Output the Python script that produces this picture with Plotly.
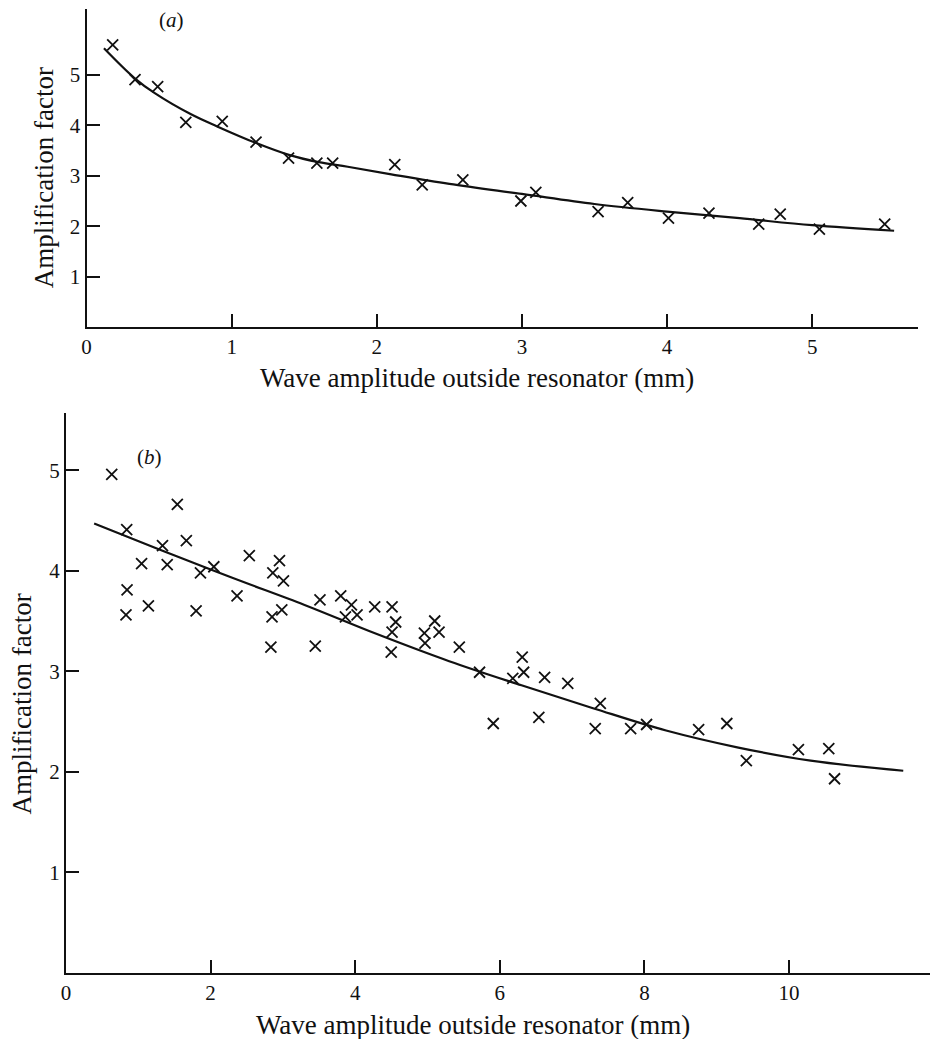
import plotly.graph_objects as go

# ---- Panel (a): measured points and fitted curve ----
a_x = [0.18, 0.334, 0.49, 0.684, 0.935, 1.168, 1.392, 1.587, 1.696, 2.124, 2.313,
       2.593, 2.993, 3.096, 3.525, 3.729, 4.01, 4.289, 4.632, 4.78, 5.05, 5.50]
a_y = [5.60, 4.91, 4.77, 4.06, 4.08, 3.67, 3.35, 3.25, 3.25, 3.22, 2.82,
       2.92, 2.50, 2.67, 2.29, 2.47, 2.16, 2.26, 2.04, 2.24, 1.94, 2.04]

a_fit_x = [0.12, 0.33, 0.47, 0.72, 0.9, 1.16, 1.4, 1.6, 1.8, 2.1, 2.5, 3.0, 3.5,
           4.0, 4.5, 5.0, 5.565]
a_fit_y = [5.53, 4.94, 4.64, 4.22, 3.98, 3.66, 3.41, 3.27, 3.18, 3.03, 2.84, 2.64,
           2.44, 2.29, 2.16, 2.02, 1.91]

# ---- Panel (b): measured points and fitted curve ----
b_x = [0.633, 0.84, 0.845, 0.83, 1.046, 1.14, 1.335, 1.40, 1.54, 1.665, 1.80, 1.86,
       2.045, 2.366, 2.536, 2.834, 2.85, 2.861, 2.953, 3.008, 2.985, 3.448, 3.513,
       3.80, 3.865, 3.948, 4.026, 4.27, 4.51, 4.51, 4.56, 4.498, 4.957, 4.966, 5.10,
       5.16, 5.44, 5.72, 6.18, 6.31, 6.33, 6.62, 6.94, 7.39, 6.54, 5.91, 7.32, 7.81,
       8.03, 8.75, 9.14, 9.41, 10.13, 10.55, 10.63]
b_y = [4.96, 4.41, 3.81, 3.56, 4.07, 3.65, 4.25, 4.06, 4.66, 4.30, 3.60, 3.98,
       4.04, 3.75, 4.15, 3.24, 3.54, 3.98, 4.10, 3.90, 3.61, 3.25, 3.71,
       3.75, 3.54, 3.66, 3.56, 3.64, 3.64, 3.39, 3.49, 3.19, 3.38, 3.28, 3.50,
       3.39, 3.24, 2.99, 2.93, 3.14, 2.99, 2.94, 2.88, 2.68, 2.54, 2.48, 2.43, 2.43,
       2.47, 2.42, 2.48, 2.11, 2.22, 2.23, 1.93]

b_fit_x = [0.39, 1.3, 2.3, 3.3, 4.3, 5.3, 6.3, 7.3, 8.3, 9.3, 10.3, 11.58]
b_fit_y = [4.47, 4.21, 3.93, 3.66, 3.37, 3.10, 2.86, 2.63, 2.41, 2.24, 2.11, 2.01]

a_xticks = [0, 1, 2, 3, 4, 5]
a_yticks = [1, 2, 3, 4, 5]
b_xticks = [0, 2, 4, 6, 8, 10]
b_yticks = [1, 2, 3, 4, 5]

x_title = "Wave amplitude outside resonator (mm)"
y_title = "Amplification factor"

FONT = "Liberation Serif, Times New Roman, serif"
INK = "#111111"
W, H = 930, 1039

fig = go.Figure()

marker = dict(symbol="x-thin", size=11, line=dict(width=1.8, color=INK), color=INK)
curve = dict(color=INK, width=2.2, shape="spline", smoothing=1.0)

fig.add_trace(go.Scatter(x=a_fit_x, y=a_fit_y, mode="lines", line=curve,
                         xaxis="x", yaxis="y", hoverinfo="skip"))
fig.add_trace(go.Scatter(x=a_x, y=a_y, mode="markers", marker=marker,
                         xaxis="x", yaxis="y"))
fig.add_trace(go.Scatter(x=b_fit_x, y=b_fit_y, mode="lines", line=curve,
                         xaxis="x2", yaxis="y2", hoverinfo="skip"))
fig.add_trace(go.Scatter(x=b_x, y=b_y, mode="markers", marker=marker,
                         xaxis="x2", yaxis="y2"))


def px_x(p):
    return p / W


def px_y(p):
    return 1 - p / H


axis_common = dict(showline=True, linecolor=INK, linewidth=2.2, mirror=False,
                   showgrid=False, zeroline=False, ticks="inside", ticklen=13,
                   tickwidth=2, tickcolor=INK,
                   tickfont=dict(family=FONT, size=21, color=INK))

fig.update_layout(
    width=W, height=H,
    margin=dict(l=0, r=0, t=0, b=0),
    paper_bgcolor="white", plot_bgcolor="white",
    showlegend=False,
    xaxis=dict(domain=[px_x(82), px_x(918)], range=[0, 5.73], anchor="y",
               tickvals=a_xticks, ticktext=[str(v) for v in a_xticks], **axis_common),
    yaxis=dict(domain=[px_y(327), px_y(9)], range=[0, 6.31], anchor="x",
               tickvals=a_yticks, ticktext=[str(v) for v in a_yticks], **axis_common),
    xaxis2=dict(domain=[px_x(61.3), 1.0], range=[0, 11.95], anchor="y2",
                tickvals=b_xticks, ticktext=[str(v) for v in b_xticks], **axis_common),
    yaxis2=dict(domain=[px_y(972.7), px_y(413)], range=[0, 5.57], anchor="x2",
                tickvals=b_yticks, ticktext=[str(v) for v in b_yticks], **axis_common),
)

title_font = dict(family=FONT, size=27, color=INK)
label_font = dict(family=FONT, size=21, color=INK)

annotations = [
    dict(text=x_title, x=px_x(475), y=px_y(378), font=title_font),
    dict(text=x_title, x=px_x(471), y=px_y(1025), font=title_font),
    dict(text=y_title, x=px_x(40), y=px_y(177.5), font=title_font, textangle=-90),
    dict(text=y_title, x=px_x(17), y=px_y(703.5), font=title_font, textangle=-90),
    dict(text="(<i>a</i>)", x=px_x(167), y=px_y(20), font=label_font),
    dict(text="(<i>b</i>)", x=px_x(145), y=px_y(457), font=label_font),
]
for ann in annotations:
    ann.update(xref="paper", yref="paper", showarrow=False,
               xanchor="center", yanchor="middle")
fig.update_layout(annotations=annotations)

fig.write_html("out.html")
